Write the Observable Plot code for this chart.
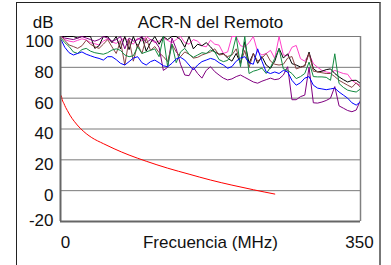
<!DOCTYPE html>
<html><head><meta charset="utf-8">
<script src="https://cdn.jsdelivr.net/npm/d3@7"></script>
<script src="https://cdn.jsdelivr.net/npm/@observablehq/plot@0.6"></script>
<style>
body{margin:0;background:#fff;}
#wrap{position:relative;width:391px;height:265px;overflow:hidden;background:#fff;}
#border{position:absolute;left:16px;top:2px;width:362px;height:300px;border-left:1px solid #222;border-top:1px solid #222;border-right:2px solid #777;pointer-events:none;}
</style></head><body><div id="wrap"><div id="border"></div></div>
<script>
const freq = [1,5,10,15,20,25,30,35,40,45,
  50,55,60,65,70,75,80,85,90,95,
  100,105,110,115,120,125,130,135,140,145,
  150,155,160,165,170,175,180,185,190,195,
  200,205,210,215,220,225,230,235,240,245,
  250,255,260,265,270,275,280,285,290,295,
  300,305,310,315,320,325,330,335,340,345,
  350];
const blue = [97.6,93,89.5,88,89,90,88.5,87.5,86.5,85.8,
  84.7,86.9,86.9,85,82.6,81.5,83.7,86,86.9,83,
  81.5,83.7,84.7,83,81,80.4,82.6,85.5,86.5,84.7,
  81.5,78.3,81.5,83.7,84.7,85.8,85,83,81.5,79.4,
  80.5,84,86,86.9,83,82,92,84,77,76,
  77,76,78,77,71.6,68.4,70,73,74,68.4,
  66.5,66,65.5,66,66.5,64,62,60,57,55.5,
  57.6];
const green = [98.7,96,93.5,90,89,91.5,92.3,90.5,89.5,89,
  88.5,89.5,91.2,92,91,88,86.9,87.5,93.3,89,
  90,91,92,86.9,100,80.4,95,83,90,92.3,
  88.5,86.5,88,89.5,89,91.2,90,85,83.7,84.5,
  89,100,80.4,100,76,77.5,78.3,79.5,76,80,
  85.8,92,79,78,76,72.7,74,76,83.4,74,
  73.8,73.8,73.5,71.6,88.8,69.5,67,65.2,64.5,64,
  66];
const brown = [100,97.5,94.5,93.5,92.3,94,97.6,95,93.3,92.3,
  95,98,93.3,89,97,81.5,98,84,95,89,
  99,91,93.5,89.5,87,83.7,95,90,86.9,90,
  88.5,86,86.5,88,89,90,92,88,88.5,87,
  88,92,82.6,91,80,89,84,86,89,84,
  82,81.5,82,86,87,79,80,81,89,77.5,
  77,76.5,76,76,74,71.6,70,68.4,67,70,
  67];
const magenta = [100,98,97,96.5,97.5,98.5,97.8,96,95.3,94.5,
  97,98.5,96.5,95.5,97.5,99,97,95,99,97,
  100,98,96,97,99,97.5,96,98,100,96,
  95,98,97,94,93.3,97.6,95,94.4,89,90,
  100,100,94,93.3,96,100,90,88,89,91,
  85.8,100,88,87.5,93,94.2,85.6,84,88.8,82.4,
  80,78,77,76.5,78,77,76,75.5,71.6,69.5,
  68.3];
const black = [100,100,100,100,99,100,100,100,92.3,94,
  100,100,96,100,92,100,91.5,100,93,100,
  90.5,96,100,95,100,98,100,100,98,93,
  100,92,95,94,96,93.3,90,88.5,89,86,
  84,89,82.6,96.6,82.6,89,82.6,87,81.5,79.4,
  84,92.3,86,88.8,82.4,81.5,80.2,81,89.9,79.1,
  77,77.5,78.5,79,76,73.8,72,70.5,71.5,71.6,
  69.5];
const purple = [100,99,98.5,98,99,100,99,98,97,98,
  100,99,97,98,100,92,99,97,98,100,
  96,98,97,93,78,80,99,92,82,75,
  74.6,80,76,73,78,80.4,77.2,75,73,71.8,
  72.5,74,75,73.5,72,70.5,69.7,71,72,73,
  72,72.5,75,80.4,59,59,61,62,80,57,
  56.8,57.5,58.5,60,67.5,55,53.5,52,51.2,52.3,
  58.7];
const redFreq = [1,2,4,6,8,11,16,23,30,36.5,50,62.5,80,100,125,150,175,200,225,250];
const redACR = [61.5,59,56.5,54,52,49,45,40.5,37,34.4,30.5,27.2,23.1,19.1,14.6,10.7,6.9,3.6,0.6,-2.2];
const yTicks = [-20,0,20,40,60,80,100];
const xTicks = [0,350];
const title = "ACR-N del Remoto";
const xLabel = "Frecuencia (MHz)";
const yLabel = "dB";

const series = [
  {vals: magenta, color: "#ff40c8"},
  {vals: black, color: "#000000"},
  {vals: purple, color: "#800080"},
  {vals: brown, color: "#884444"},
  {vals: green, color: "#138a40"},
  {vals: blue, color: "#0000ff"}
];
const toRows = (xs, ys) => xs.map((f, i) => ({f, v: ys[i]}));
const fs = 17;
const txt = {fontSize: fs, fill: "#111", lineAnchor: "middle"};

const chart = Plot.plot({
  width: 391, height: 265,
  marginLeft: 60, marginRight: 31, marginTop: 36, marginBottom: 44,
  x: {domain: [0, 350], axis: null},
  y: {domain: [-20, 100], axis: null},
  style: {fontFamily: "'Liberation Sans', Arial, sans-serif", fontSize: fs + "px", background: "white", overflow: "visible"},
  marks: [
    Plot.ruleY(yTicks.filter(d => d > -20), {y: d => d, stroke: "#7a7a7a", strokeWidth: 1}),
    ...series.map(s => Plot.line(toRows(freq, s.vals), {x: "f", y: "v", stroke: s.color, strokeWidth: 1, clip: true})),
    Plot.line(toRows(redFreq, redACR), {x: "f", y: "v", stroke: "#ff0000", strokeWidth: 1, curve: "monotone-x", clip: true}),
    Plot.ruleX([350], {x: d => d, stroke: "#808080", strokeWidth: 1.5}),
    Plot.ruleX([0], {x: d => d, stroke: "#666", strokeWidth: 2}),
    Plot.ruleY([-20], {y: d => d, stroke: "#666", strokeWidth: 2}),
    Plot.text(yTicks.filter(d => d > -20), {...txt, y: d => d, text: d => String(d), frameAnchor: "left", textAnchor: "end", dx: -7, dy: 5}),
    Plot.text([-20], {...txt, y: d => d, text: d => String(d), frameAnchor: "left", textAnchor: "end", dx: -7, dy: -1}),
    Plot.text([xTicks[0]], {...txt, x: d => d, text: d => String(d), frameAnchor: "bottom", dy: 21, dx: 5}),
    Plot.text([xTicks[1]], {...txt, x: d => d, text: d => String(d), frameAnchor: "bottom", dy: 21, dx: -1}),
    Plot.text([xLabel], {...txt, text: d => d, frameAnchor: "bottom", dy: 21}),
    Plot.text([title], {...txt, text: d => d, frameAnchor: "top", dy: -14}),
    Plot.text([yLabel], {...txt, text: d => d, frameAnchor: "top-left", textAnchor: "end", dx: -7, dy: -14})
  ]
});
document.getElementById("wrap").appendChild(chart);
</script>
</body></html>
